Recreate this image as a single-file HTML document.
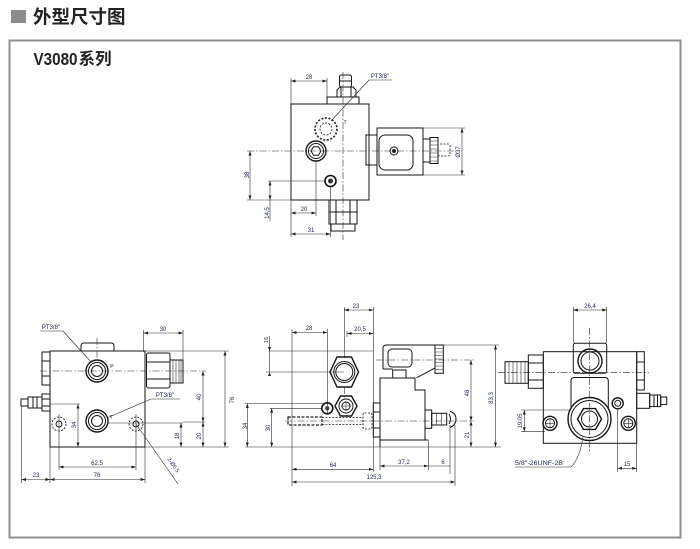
<!DOCTYPE html>
<html><head><meta charset="utf-8">
<style>
html,body{margin:0;padding:0;background:#fff;width:700px;height:549px;overflow:hidden}
svg{display:block}
.o{fill:none;stroke:#151515;stroke-width:1}
.k{fill:none;stroke:#151515;stroke-width:1.4}
.d{fill:none;stroke:#2a2a2a;stroke-width:0.6}
.m{marker-start:url(#a);marker-end:url(#a)}
.c{fill:none;stroke:#2a2a2a;stroke-width:0.6;stroke-dasharray:7 2 1.5 2}
.h{fill:none;stroke:#1a1a1a;stroke-width:0.85;stroke-dasharray:2 1.4}
.t{font-family:"Liberation Sans",sans-serif;font-size:6px;fill:#1a2550;text-anchor:middle}
</style></head><body>
<svg width="700" height="549" viewBox="0 0 700 549" xmlns="http://www.w3.org/2000/svg">
<defs>
<marker id="a" viewBox="0 0 6 4" refX="6" refY="2" markerWidth="4.5" markerHeight="3" markerUnits="userSpaceOnUse" orient="auto-start-reverse"><path d="M0,0 L6,2 L0,4 Z" fill="#222"/></marker>
</defs>

<!-- header -->
<rect x="11" y="10" width="15" height="13" fill="#8c8c8c"/>
<text x="33" y="23.7" font-family="'Liberation Sans','Noto Sans CJK SC',sans-serif" font-size="18.5" font-weight="bold" fill="#222">外型尺寸图</text>
<rect x="9.5" y="40.5" width="671" height="497" fill="none" stroke="#8f8f8f" stroke-width="2"/>
<text x="33.5" y="65" font-family="'Liberation Sans',sans-serif" font-size="17.5" font-weight="bold" fill="#222" textLength="44" lengthAdjust="spacingAndGlyphs">V3080</text>
<text x="78.5" y="64.5" font-family="'Liberation Sans','Noto Sans CJK SC',sans-serif" font-size="16.5" font-weight="bold" fill="#222">系列</text>

<!-- ================= TOP VIEW ================= -->
<rect class="o" x="291" y="104" width="78" height="96"/>
<rect class="o" x="327" y="97" width="32" height="7"/>
<path class="o" d="M337,97 V90 L340,87 H353 L356,90 V97"/>
<line class="o" x1="341" y1="87" x2="341" y2="97"/>
<line class="o" x1="351" y1="87" x2="351" y2="97"/>
<rect class="o" x="339.5" y="75" width="12" height="12" rx="2"/>
<line class="o" x1="339.5" y1="81" x2="351.5" y2="81"/>
<line class="c" x1="343" y1="72" x2="343" y2="240"/>
<line class="c" x1="247" y1="151" x2="456" y2="151"/>
<circle cx="326" cy="129" r="11" fill="none" stroke="#222" stroke-width="1.6" stroke-dasharray="2 1.6"/>
<circle class="h" cx="326" cy="129" r="6"/>
<text class="t" x="345" y="124" style="font-size:5px">T</text>
<text class="t" x="380" y="78">PT3/8"</text>
<line class="d" x1="369" y1="80" x2="392" y2="80"/>
<line class="d" x1="369" y1="80" x2="331" y2="121"/>
<circle class="k" cx="316" cy="151" r="10"/>
<circle class="o" cx="316" cy="151" r="7.5"/>
<polygon class="o" points="321,151 318.5,155.3 313.5,155.3 311,151 313.5,146.7 318.5,146.7"/>
<circle cx="330.5" cy="181" r="5.5" fill="none" stroke="#111" stroke-width="1.6"/>
<circle cx="330.5" cy="181" r="2.5" fill="#333"/>
<!-- solenoid top -->
<rect class="o" x="366" y="135" width="11" height="30"/>
<rect class="o" x="377" y="128" width="46" height="47"/>
<rect class="o" x="379" y="135" width="34" height="35" rx="6"/>
<circle class="o" cx="394" cy="151" r="4"/>
<circle cx="394" cy="151" r="2" fill="#222"/>
<rect class="o" x="423" y="139" width="7" height="23"/>
<rect class="o" x="430" y="137.5" width="8" height="26"/>
<path class="d" d="M430,141H438M430,145H438M430,149H438M430,153H438M430,157H438M430,161H438"/>
<rect class="h" x="438" y="144" width="12" height="12" rx="2"/>
<!-- bottom nut -->
<rect class="o" x="329" y="200" width="28" height="24"/>
<line class="o" x1="336" y1="200" x2="336" y2="224"/>
<line class="o" x1="350" y1="200" x2="350" y2="224"/>
<line class="o" x1="329" y1="212" x2="357" y2="212"/>
<rect class="o" x="331" y="224" width="24" height="7"/>
<!-- dims -->
<line class="d m" x1="291" y1="81" x2="327" y2="81"/>
<line class="d" x1="291" y1="78" x2="291" y2="104"/>
<line class="d" x1="327" y1="78" x2="327" y2="97"/>
<text class="t" x="309" y="79">28</text>
<line class="d m" x1="250" y1="151" x2="250" y2="200"/>
<line class="d" x1="247" y1="200" x2="291" y2="200"/>
<text class="t" transform="rotate(-90 249 175)" x="249" y="175">38</text>
<line class="d m" x1="270" y1="181" x2="270" y2="200"/>
<line class="d" x1="270" y1="200" x2="270" y2="221"/>
<line class="d" x1="268" y1="181" x2="325" y2="181"/>
<text class="t" transform="rotate(-90 269 213)" x="269" y="213">14,5</text>
<line class="d" x1="291" y1="200" x2="291" y2="237"/>
<line class="d" x1="316" y1="161" x2="316" y2="216"/>
<line class="d m" x1="291" y1="213" x2="316" y2="213"/>
<text class="t" x="304" y="211">20</text>
<line class="d" x1="330.5" y1="187" x2="330.5" y2="237"/>
<line class="d m" x1="291" y1="234" x2="330.5" y2="234"/>
<text class="t" x="311" y="232">31</text>
<line class="d" x1="423" y1="128" x2="465" y2="128"/>
<line class="d" x1="423" y1="175" x2="465" y2="175"/>
<line class="d m" x1="462" y1="128" x2="462" y2="175"/>
<text class="t" transform="rotate(-90 460 152)" x="460" y="152">Ø37</text>

<!-- ================= BOTTOM LEFT ================= -->
<rect class="o" x="50" y="351" width="95" height="96"/>
<path class="o" d="M81,351 V346 Q81,343 84,343 H111 Q114,343 114,346 V351"/>
<line class="c" x1="97" y1="338" x2="97" y2="360"/>
<rect class="o" x="42" y="352" width="8" height="33"/>
<line class="o" x1="42" y1="361" x2="50" y2="361"/>
<line class="o" x1="42" y1="376" x2="50" y2="376"/>
<rect class="o" x="42" y="394" width="8" height="17"/>
<line class="o" x1="42" y1="399" x2="50" y2="399"/>
<line class="o" x1="42" y1="406" x2="50" y2="406"/>
<rect class="o" x="28" y="397" width="14" height="11"/>
<line class="o" x1="33" y1="397" x2="33" y2="408"/>
<line class="o" x1="37" y1="397" x2="37" y2="408"/>
<rect class="o" x="21" y="399" width="7" height="7"/>
<rect class="o" x="146.5" y="353" width="23.5" height="35" rx="2"/>
<line class="o" x1="146.5" y1="362" x2="170" y2="362"/>
<line class="o" x1="146.5" y1="379" x2="170" y2="379"/>
<rect class="o" x="170" y="360" width="13" height="23"/>
<path class="d" d="M173,360V383M176,360V383M179,360V383M181,360V383"/>
<circle class="k" cx="97" cy="371" r="11"/>
<circle class="o" cx="97" cy="371" r="8.5"/>
<circle class="o" cx="97" cy="371" r="5.5"/>
<text class="t" x="112" y="368" style="font-size:5.5px">P</text>
<circle class="k" cx="97" cy="421" r="11"/>
<circle class="o" cx="97" cy="421" r="8.5"/>
<circle class="o" cx="97" cy="421" r="5.5"/>
<text class="t" x="111" y="419" style="font-size:5.5px">T</text>
<line class="c" x1="40" y1="371" x2="206" y2="371"/>
<circle class="h" cx="59" cy="424" r="7"/>
<circle class="o" cx="59" cy="424" r="3"/>
<circle class="h" cx="136" cy="424" r="7"/>
<circle class="o" cx="136" cy="424" r="3"/>
<line class="d" x1="108" y1="423" x2="183" y2="423"/>
<line class="d" x1="59" y1="414" x2="59" y2="470"/>
<line class="d" x1="136" y1="414" x2="136" y2="470"/>
<text class="t" x="51" y="329">PT3/8"</text>
<line class="d" x1="40" y1="331" x2="63" y2="331"/>
<line class="d" x1="63" y1="331" x2="91" y2="362"/>
<text class="t" x="165" y="397">PT3/8"</text>
<line class="d" x1="151" y1="399" x2="180" y2="399"/>
<line class="d" x1="151" y1="399" x2="107" y2="418"/>
<!-- dims -->
<line class="d" x1="143.5" y1="330" x2="143.5" y2="352"/>
<line class="d" x1="183" y1="330" x2="183" y2="360"/>
<line class="d m" x1="143.5" y1="333" x2="183" y2="333"/>
<text class="t" x="163" y="331">30</text>
<line class="d" x1="145" y1="351" x2="229" y2="351"/>
<line class="d" x1="145" y1="447" x2="229" y2="447"/>
<line class="d m" x1="225" y1="351" x2="225" y2="447"/>
<text class="t" transform="rotate(-90 234 400)" x="234" y="400">76</text>
<line class="d m" x1="203" y1="371" x2="203" y2="422"/>
<line class="d m" x1="203" y1="422" x2="203" y2="447"/>
<line class="d" x1="183" y1="422" x2="205" y2="422"/>
<text class="t" transform="rotate(-90 201 397)" x="201" y="397">40</text>
<text class="t" transform="rotate(-90 201 436)" x="201" y="436">20</text>
<line class="d m" x1="181" y1="423" x2="181" y2="447"/>
<text class="t" transform="rotate(-90 179 436)" x="179" y="436">18</text>
<line class="d" x1="50" y1="404" x2="80" y2="404"/>
<line class="d m" x1="78" y1="404" x2="78" y2="447"/>
<text class="t" transform="rotate(-90 76 425)" x="76" y="425">34</text>
<line class="d m" x1="59" y1="467" x2="136" y2="467"/>
<text class="t" x="97" y="465">62.5</text>
<line class="d" x1="50" y1="447" x2="50" y2="483"/>
<line class="d" x1="145" y1="447" x2="145" y2="483"/>
<line class="d" x1="21.5" y1="406" x2="21.5" y2="483"/>
<line class="d m" x1="50" y1="479.5" x2="145" y2="479.5"/>
<text class="t" x="97" y="477">76</text>
<line class="d m" x1="21.5" y1="479.5" x2="50" y2="479.5"/>
<text class="t" x="36" y="477">23</text>
<line class="d" x1="136" y1="424" x2="178" y2="484"/>
<text class="t" transform="rotate(55 172 466)" x="172" y="466" style="font-size:5.5px">2-Ø5.5</text>

<!-- ================= BOTTOM MIDDLE ================= -->
<line class="d" x1="269" y1="351" x2="373" y2="351"/>
<line class="d" x1="292" y1="329" x2="292" y2="486"/>
<line class="d" x1="373.3" y1="307" x2="373.3" y2="472"/>
<line class="d" x1="245" y1="447" x2="501" y2="447"/>
<line class="d m" x1="344.3" y1="310" x2="373.3" y2="310"/>
<line class="d" x1="344.3" y1="307" x2="344.3" y2="358"/>
<text class="t" x="356" y="308">23</text>
<line class="d m" x1="347" y1="333.5" x2="373.3" y2="333.5"/>
<line class="d" x1="347" y1="331" x2="347" y2="337"/>
<text class="t" x="360" y="331">20,5</text>
<line class="d m" x1="292" y1="332.5" x2="327.3" y2="332.5"/>
<line class="d" x1="327.3" y1="329" x2="327.3" y2="414"/>
<text class="t" x="309" y="330">28</text>
<line class="d" x1="266" y1="372" x2="344" y2="372"/>
<line class="d" x1="269.5" y1="336" x2="269.5" y2="372"/>
<path d="M269.5,351 l-1.5,-4 h3 z M269.5,372 l-1.5,4 h3 z" fill="#222"/>
<text class="t" transform="rotate(-90 268 340)" x="268" y="340" style="font-size:5.5px">16</text>
<polygon class="k" points="330,372 337,357 351.5,357 358.5,372 351.5,387 337,387"/>
<circle class="o" cx="344.3" cy="372" r="10.5"/>
<circle class="o" cx="344.3" cy="372" r="8.5"/>
<polygon class="k" points="335,406 340.5,396 351.5,396 357,406 351.5,416 340.5,416"/>
<circle class="o" cx="346" cy="406" r="7"/>
<circle class="o" cx="346" cy="406" r="4"/>
<path class="d" d="M341,406H351M346,401V411"/>
<line class="c" x1="344.3" y1="387" x2="344.3" y2="398"/>
<circle cx="327.3" cy="408.3" r="5.5" fill="none" stroke="#111" stroke-width="1.6"/>
<circle cx="327.3" cy="408.3" r="2.2" fill="#444"/>
<line class="d" x1="245" y1="403.5" x2="327" y2="403.5"/>
<line class="d m" x1="247.3" y1="403.5" x2="247.3" y2="447"/>
<text class="t" transform="rotate(-90 247 426)" x="247" y="426">34</text>
<line class="d" x1="270" y1="408.3" x2="322" y2="408.3"/>
<line class="d m" x1="271.7" y1="408.3" x2="271.7" y2="447"/>
<text class="t" transform="rotate(-90 270 428)" x="270" y="428">30</text>
<rect x="288" y="417" width="34" height="8" fill="none" stroke="#222" stroke-width="1.2" stroke-dasharray="3 1.5"/>
<line class="h" x1="322" y1="417.5" x2="363" y2="417.5"/>
<line class="h" x1="322" y1="424.5" x2="363" y2="424.5"/>
<rect class="h" x="363" y="413" width="9" height="16" rx="1.5"/>
<line class="c" x1="285" y1="421" x2="474" y2="421"/>
<!-- coil side -->
<rect class="o" x="373.3" y="403" width="6.7" height="34"/>
<line class="o" x1="373.3" y1="412" x2="380" y2="412"/>
<line class="o" x1="373.3" y1="428" x2="380" y2="428"/>
<path class="o" d="M380,447 V378 H415 V390 H425 V440"/>
<line class="o" x1="380" y1="440" x2="428.3" y2="440"/>
<path class="o" d="M383,369 V348.5 Q383,345 386.5,345 H435 V368 L417,377.5 V378"/>
<line class="o" x1="383" y1="369" x2="392.7" y2="369"/>
<rect class="o" x="388" y="349" width="24" height="18" rx="4"/>
<rect class="o" x="392.7" y="370" width="13.3" height="8"/>
<rect class="o" x="435" y="345" width="8.3" height="28.3"/>
<path class="d" d="M435,348.5H443.3M435,352H443.3M435,355.5H443.3M435,359H443.3M435,362.5H443.3M435,366H443.3M435,369.5H443.3"/>
<line class="c" x1="376" y1="360" x2="474" y2="360"/>
<rect class="o" x="425" y="410" width="6.7" height="18.3"/>
<rect class="o" x="431.7" y="413.3" width="15" height="11.7"/>
<line class="d" x1="436.5" y1="413.3" x2="436.5" y2="425"/>
<line class="d" x1="441.5" y1="413.3" x2="441.5" y2="425"/>
<path class="o" d="M450,411.5 Q456,413 456,419 Q456,425 450,427.5 M449,414 Q452,419 449,424"/>
<line class="d" x1="450" y1="425" x2="450" y2="474"/>
<line class="d" x1="380" y1="447" x2="380" y2="470"/>
<line class="d" x1="428.3" y1="440" x2="428.3" y2="470"/>
<line class="d m" x1="380" y1="466" x2="428.3" y2="466"/>
<text class="t" x="404" y="464">37,2</text>
<line class="d" x1="428.3" y1="466" x2="450" y2="466"/>
<text class="t" x="443" y="464">6</text>
<line class="d m" x1="292" y1="469.3" x2="373.3" y2="469.3"/>
<text class="t" x="333" y="467">64</text>
<line class="d" x1="455" y1="425" x2="455" y2="486"/>
<line class="d m" x1="292" y1="482" x2="455" y2="482"/>
<text class="t" x="374" y="479">125,3</text>
<line class="d" x1="443.3" y1="345" x2="499" y2="345"/>
<line class="d m" x1="471" y1="360" x2="471" y2="421"/>
<line class="d m" x1="471" y1="421" x2="471" y2="447"/>
<text class="t" transform="rotate(-90 469 393)" x="469" y="393">48</text>
<text class="t" transform="rotate(-90 469 435)" x="469" y="435">21</text>
<line class="d m" x1="495.5" y1="345" x2="495.5" y2="447"/>
<text class="t" transform="rotate(-90 493 398)" x="493" y="398">83,3</text>

<!-- ================= BOTTOM RIGHT ================= -->
<rect class="o" x="543.3" y="351.7" width="93.4" height="91.6"/>
<rect class="o" x="573.3" y="343.3" width="33.4" height="30" rx="2"/>
<circle class="k" cx="590" cy="361" r="12"/>
<circle class="o" cx="590" cy="361" r="9"/>
<line class="c" x1="498" y1="372.3" x2="649" y2="372.3"/>
<line class="c" x1="589.5" y1="328" x2="589.5" y2="453"/>
<path class="o" d="M571,409 V381 Q571,377.5 574.5,377.5 H604.8 Q608.3,377.5 608.3,381 V409"/>
<circle class="k" cx="589.5" cy="419" r="21.5"/>
<circle class="o" cx="589.5" cy="419" r="18.5"/>
<polygon class="k" points="601.5,419 595.5,429.4 583.5,429.4 577.5,419 583.5,408.6 595.5,408.6"/>
<circle class="o" cx="589.5" cy="419" r="8"/>
<rect class="o" x="528.3" y="355" width="15" height="33.3"/>
<line class="o" x1="528.3" y1="363" x2="543.3" y2="363"/>
<line class="o" x1="528.3" y1="380" x2="543.3" y2="380"/>
<rect class="o" x="505" y="361.7" width="23.3" height="21.6"/>
<path class="d" d="M509,361.7V383.3M513,361.7V383.3M517,361.7V383.3M521,361.7V383.3M525,361.7V383.3"/>
<rect class="o" x="636.7" y="351.7" width="7.6" height="38.3"/>
<line class="o" x1="636.7" y1="362" x2="644.3" y2="362"/>
<line class="o" x1="636.7" y1="380" x2="644.3" y2="380"/>
<rect class="o" x="636.7" y="393.3" width="13" height="15"/>
<rect class="o" x="649.7" y="395" width="11" height="11.6"/>
<line class="o" x1="654" y1="395" x2="654" y2="406.6"/>
<line class="o" x1="657.5" y1="395" x2="657.5" y2="406.6"/>
<rect class="o" x="660.7" y="397" width="6" height="7.6"/>
<circle class="k" cx="550" cy="423.3" r="7"/>
<circle class="o" cx="550" cy="423.3" r="4.5"/>
<path class="d" d="M545,423.3H555M550,418.3V428.3"/>
<circle class="k" cx="628.3" cy="423.3" r="7"/>
<circle class="o" cx="628.3" cy="423.3" r="4.5"/>
<path class="d" d="M623.3,423.3H633.3M628.3,418.3V428.3"/>
<circle cx="617.7" cy="403.3" r="5.5" fill="none" stroke="#111" stroke-width="1.4"/>
<circle class="o" cx="617.7" cy="403.3" r="3"/>
<line class="d" x1="573.3" y1="307" x2="573.3" y2="343"/>
<line class="d" x1="606.7" y1="307" x2="606.7" y2="343"/>
<line class="d m" x1="573.3" y1="310" x2="606.7" y2="310"/>
<text class="t" x="590" y="308">26,4</text>
<line class="d" x1="521" y1="410" x2="571" y2="410"/>
<line class="d" x1="521" y1="431.7" x2="545" y2="431.7"/>
<line class="d m" x1="524.3" y1="410" x2="524.3" y2="431.7"/>
<text class="t" transform="rotate(-90 522 421)" x="522" y="421">19,05</text>
<line class="d" x1="617.7" y1="409" x2="617.7" y2="472"/>
<line class="d" x1="636.7" y1="443" x2="636.7" y2="472"/>
<line class="d m" x1="617.7" y1="468.3" x2="636.7" y2="468.3"/>
<text class="t" x="627" y="466">15</text>
<text x="515" y="465" font-family="'Liberation Sans',sans-serif" font-size="6" fill="#1a2550" textLength="48" lengthAdjust="spacingAndGlyphs">5/8"-26UNF-2B</text>
<line class="d" x1="515" y1="467" x2="571" y2="467"/>
<path class="d" d="M571,467 Q580,458 583,437"/>
</svg>
</body></html>
